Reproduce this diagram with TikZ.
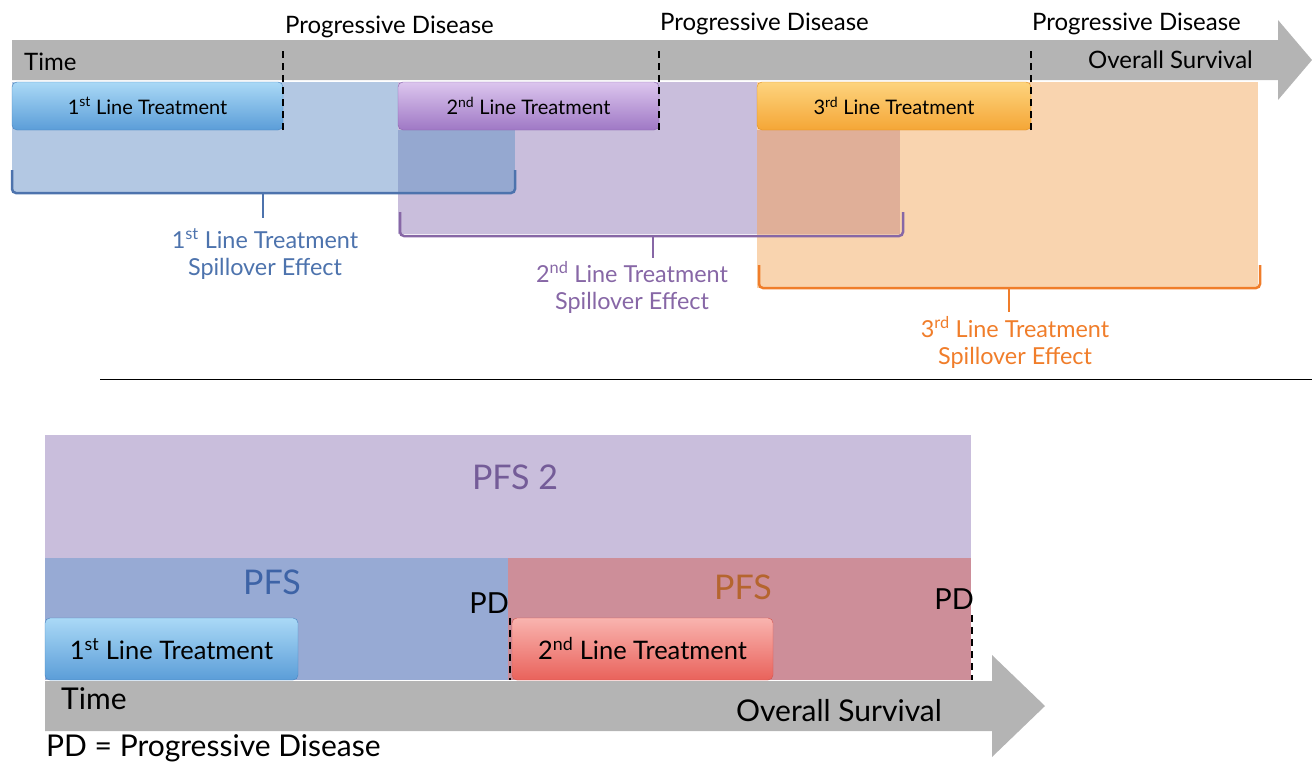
\documentclass[tikz,border=0pt]{standalone}
\usepackage{fontspec}
\setmainfont{Lato}
\usetikzlibrary{positioning}
\definecolor{arrgray}{HTML}{B4B4B4}
\definecolor{regblue}{HTML}{B3C8E3}
\definecolor{regpurple}{HTML}{C9BEDC}
\definecolor{regorange}{HTML}{F9D4AF}
\definecolor{mixbp}{HTML}{95A8D0}
\definecolor{mixpo}{HTML}{E0AF98}
\definecolor{txtblue}{HTML}{4D73AD}
\definecolor{txtpurple}{HTML}{8767A6}
\definecolor{txtorange}{HTML}{F07D2A}
\definecolor{pfsblue}{HTML}{97AAD4}
\definecolor{pfsred}{HTML}{CD8E99}
\definecolor{pfsbluetxt}{HTML}{3D63A6}
\definecolor{pfsredtxt}{HTML}{B5652E}
\definecolor{pfstwotxt}{HTML}{745C98}
\definecolor{bluetop}{HTML}{AAD9F6}
\definecolor{bluebot}{HTML}{5B9DD8}
\definecolor{blueedge}{HTML}{4A85C0}
\definecolor{purptop}{HTML}{DCC6EE}
\definecolor{purpbot}{HTML}{9F78C5}
\definecolor{purpedge}{HTML}{8A63AE}
\definecolor{orantop}{HTML}{FDD47E}
\definecolor{oranbot}{HTML}{F5A636}
\definecolor{oranedge}{HTML}{E08E20}
\definecolor{redtop}{HTML}{F9B4AF}
\definecolor{redbot}{HTML}{E9625B}
\definecolor{rededge}{HTML}{D4554F}
\tikzstyle{treat}=[rectangle, rounded corners=5pt, inner sep=0pt, minimum height=48pt, font=\fontsize{20}{24}\selectfont]
\tikzstyle{treatbig}=[treat, minimum height=62pt, font=\fontsize{25.5}{30}\selectfont]
\tikzstyle{bluebox}=[top color=bluetop, bottom color=bluebot, draw=blueedge]
\tikzstyle{purpbox}=[top color=purptop, bottom color=purpbot, draw=purpedge]
\tikzstyle{oranbox}=[top color=orantop, bottom color=oranbot, draw=oranedge]
\tikzstyle{redbox}=[top color=redtop, bottom color=redbot, draw=rededge]
\tikzstyle{pdline}=[black, line width=2.2pt, dash pattern=on 7pt off 5pt]
\tikzstyle{brace}=[line width=2.5pt, rounded corners=4pt]
\tikzstyle{pdlabel}=[anchor=base west, inner sep=0pt, font=\fontsize{24}{28}\selectfont]
\tikzstyle{spill}=[align=center, inner sep=0pt, font=\fontsize{23.4}{27}\selectfont]
\tikzstyle{axis}=[inner sep=0pt, font=\fontsize{24}{28}\selectfont]
\tikzstyle{axisbig}=[inner sep=0pt, font=\fontsize{30}{34}\selectfont]
\tikzstyle{pfs}=[inner sep=0pt, font=\fontsize{34}{38}\selectfont]

\begin{document}
\begin{tikzpicture}[x=1pt, y=-1pt]
\useasboundingbox (0,0) rectangle (1312,763);

\fill[arrgray] (12,40) -- (1278,40) -- (1278,20) -- (1312,60) -- (1278,100) -- (1278,80) -- (12,80) -- cycle;
\fill[regblue] (12,82) rectangle (515,193);
\fill[regpurple] (398,82) rectangle (900,234);
\fill[regorange] (757,82) rectangle (1258,288);
\fill[mixbp] (398,130) rectangle (515,193);
\fill[mixpo] (757,130) rectangle (900,234);

\node[axis, anchor=west] (time1) at (24,62) {Time};
\node[axis, anchor=east] (os1) at (1253,60) {Overall Survival};

\node[treat, bluebox, minimum width=271pt] (b1) at (147.5,106) {1\textsuperscript{st} Line Treatment};
\node[treat, purpbox, minimum width=261pt] (b2) at (528.5,106) {2\textsuperscript{nd} Line Treatment};
\node[treat, oranbox, minimum width=274pt] (b3) at (894,106) {3\textsuperscript{rd} Line Treatment};

\node[pdlabel] (pd1) at (285,33) {Progressive Disease};
\node[pdlabel] (pd2) at (660,30) {Progressive Disease};
\node[pdlabel] (pd3) at (1032,30) {Progressive Disease};
\draw[pdline] (b1.south east) -- (b1.south east |- os1.north);
\draw[pdline] (b2.south east) -- (b2.south east |- os1.north);
\draw[pdline] (b3.south east) -- (b3.south east |- os1.north);

\node[spill, text=txtblue] (s1) at (265,254) {1\textsuperscript{st} Line Treatment\\Spillover Effect};
\node[spill, text=txtpurple] (s2) at (632,287) {2\textsuperscript{nd} Line Treatment\\Spillover Effect};
\node[spill, text=txtorange] (s3) at (1015,342) {3\textsuperscript{rd} Line Treatment\\Spillover Effect};

\draw[brace, txtblue] (12,170) -- (12,193) -- (515,193) -- (515,170);
\draw[brace, txtblue] (263,193) -- (263,218);
\draw[brace, txtpurple] (400,212) -- (400,236) -- (903,236) -- (903,212);
\draw[brace, txtpurple] (653,236) -- (653,258);
\draw[brace, txtorange] (759,265) -- (759,288) -- (1260,288) -- (1260,265);
\draw[brace, txtorange] (1009,288) -- (1009,312);

\draw[black, line width=1pt] (100,379) -- (1312,379);

\fill[regpurple] (45,435) rectangle (971,558);
\fill[pfsblue] (45,558) rectangle (508,680);
\fill[pfsred] (508,558) rectangle (971,680);
\fill[arrgray] (45,681) -- (992,681) -- (992,655) -- (1045,706) -- (992,757) -- (992,731) -- (45,731) -- cycle;

\node[pfs, text=pfstwotxt] (pfs2) at (515,477) {PFS 2};
\node[pfs, text=pfsbluetxt] (pfsa) at (272,582) {PFS};
\node[pfs, text=pfsredtxt] (pfsb) at (743,587) {PFS};

\node[treatbig, bluebox, minimum width=253pt] (c1) at (171.5,649) {1\textsuperscript{st} Line Treatment};
\node[treatbig, redbox, minimum width=261pt] (c2) at (642.5,649) {2\textsuperscript{nd} Line Treatment};

\node[axisbig, font=\fontsize{29}{33}\selectfont, anchor=base east] (pda) at (509,613) {PD};
\node[axisbig, font=\fontsize{29}{33}\selectfont, anchor=base east] (pdb) at (974,609) {PD};
\draw[pdline] (c2.north west) ++(-2,0) coordinate (pdat) -- (pdat |- c2.south);
\draw[pdline] (pdb.south east) ++(-2,6) coordinate (pdbt) -- (pdbt |- c2.south);

\node[axisbig, anchor=west] (time2) at (61,699) {Time};
\node[axisbig] (os2) at (839,711) {Overall Survival};
\node[axisbig, anchor=west] (pdkey) at (46,748) {PD = Progressive Disease};
\end{tikzpicture}
\end{document}
